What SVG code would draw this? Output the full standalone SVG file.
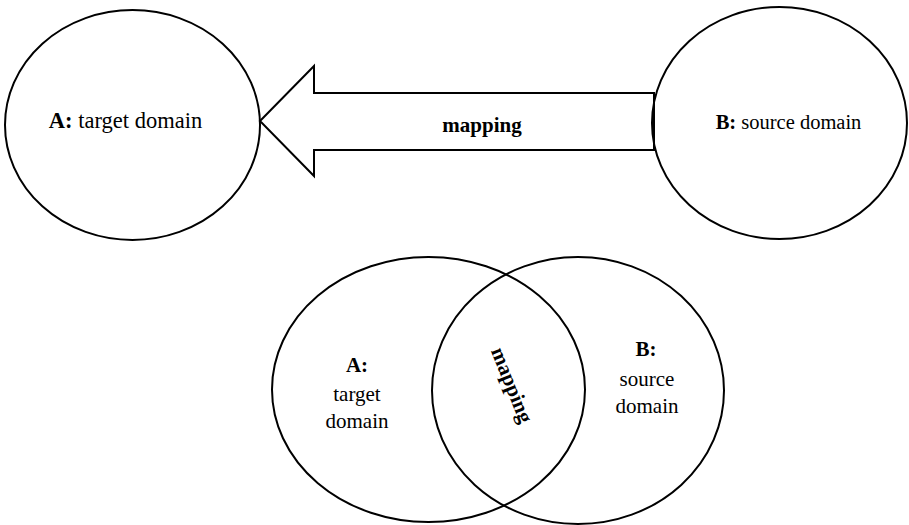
<svg xmlns="http://www.w3.org/2000/svg" width="909" height="525" viewBox="0 0 909 525">
<style>
.shape{fill:none;stroke:#000;stroke-width:2}
.t{font-family:"Liberation Serif","Times New Roman",serif;font-size:21px;fill:#000;text-anchor:middle}
.b{font-weight:bold}
</style>
<rect width="909" height="525" fill="#fff"/>
<g id="connectors">
<path id="mapping-arrow" class="shape" d="M260,121 L314,66 L314,93 L654,93 L654,150 L314,150 L314,176 Z"/>
<text class="t b" x="482" y="132">mapping</text>
</g>
<g id="node-A-top">
<ellipse class="shape" cx="132.5" cy="125" rx="127.5" ry="115"/>
<text class="t" x="125.5" y="128" style="font-size:22.5px"><tspan class="b">A:</tspan> target domain</text>
</g>
<g id="node-B-top">
<ellipse class="shape" cx="779.5" cy="123" rx="127.5" ry="116"/>
<text class="t" x="788.5" y="129" style="font-size:20.5px"><tspan class="b">B:</tspan> source domain</text>
</g>
<g id="node-A-bottom">
<ellipse class="shape" cx="428.5" cy="389.5" rx="156.5" ry="132.5"/>
<text class="t b" x="357" y="372">A:</text>
<text class="t" x="357" y="401">target</text>
<text class="t" x="357" y="428">domain</text>
</g>
<g id="node-B-bottom">
<ellipse class="shape" cx="578" cy="390.5" rx="146" ry="133.5"/>
<text class="t b" x="646" y="356">B:</text>
<text class="t" x="647" y="386">source</text>
<text class="t" x="647" y="413">domain</text>
</g>
<g id="overlap-label">
<text class="t b" x="0" y="0" transform="translate(512,385) rotate(68) translate(0,7)">mapping</text>
</g>
</svg>
